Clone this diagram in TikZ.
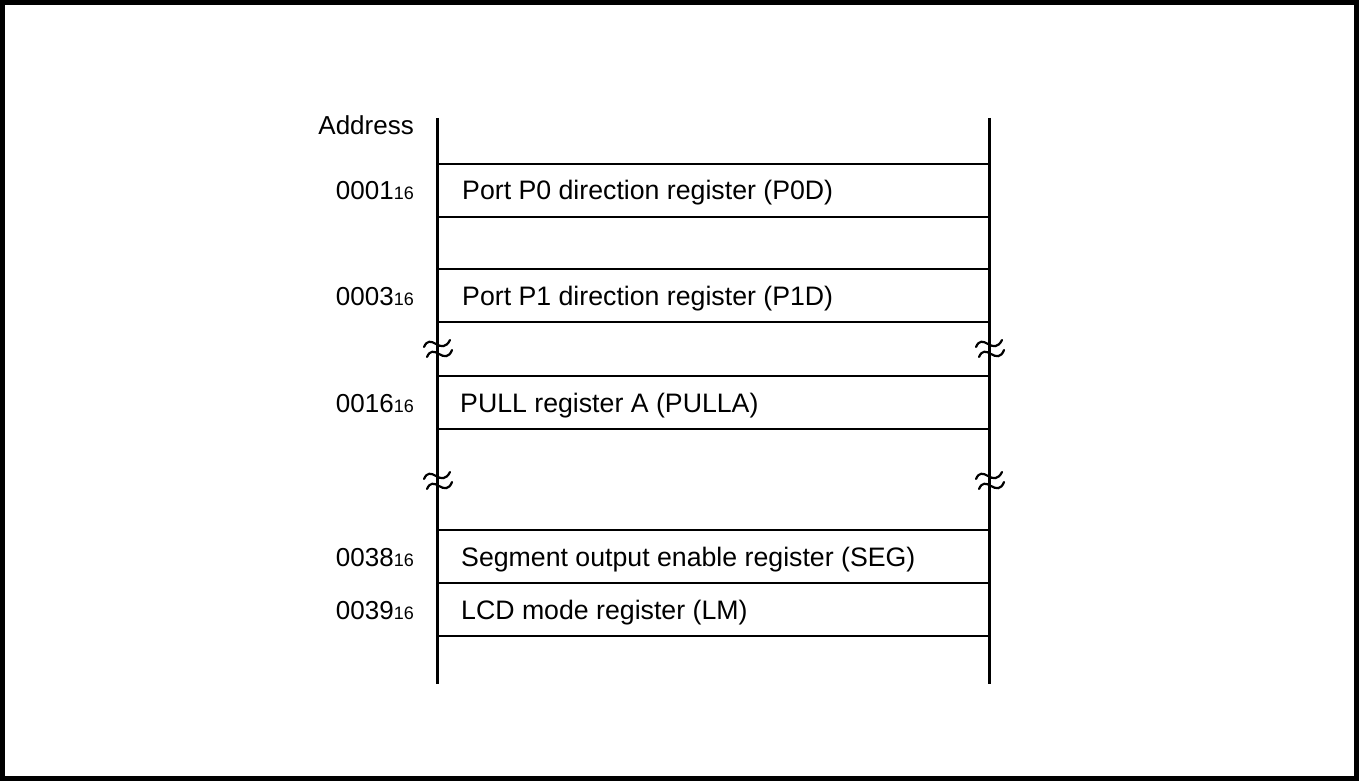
\documentclass[tikz,border=0pt]{standalone}
\usepackage{fontspec}
\setmainfont{Liberation Sans}
\newcommand{\subs}[1]{{\fontsize{18}{20}\selectfont #1}}
\begin{document}
\begin{tikzpicture}[x=1pt,y=-1pt,
  reg/.style={anchor=base west,inner sep=0pt,font=\fontsize{26.7}{30}\selectfont},
  addr/.style={anchor=base east,inner sep=0pt,font=\fontsize{26}{30}\selectfont},
  rowline/.style={line width=2.6pt},
  vline/.style={line width=3pt},
  tilde/.style={line width=2.2pt,line cap=round}]
\useasboundingbox (0,0) rectangle (1359,781);
\draw[line width=5pt] (2.5,2.5) rectangle (1356.5,778.5);
% verticals
\coordinate (lt) at (437,118); \coordinate (lb) at (437,684);
\coordinate (rt) at (989,118); \coordinate (rb) at (989,684);
\draw[vline] (lt) -- (lb);
\draw[vline] (rt) -- (rb);
% row lines
\foreach \yy/\nm in {164/a,217/b,269/c,322/d,376/e,429/f,530/g,583/h,636/i}{
  \coordinate (L\nm) at (437,\yy);
  \coordinate (R\nm) at (989,\yy);
  \draw[rowline] (L\nm) -- (R\nm);
}
% break marks
\newcommand{\brk}[2]{%
  \fill[white] (#1-15,#2-10) rectangle (#1+16,#2+10);
  \draw[vline] (#1,#2-11) -- (#1,#2+11);
  \draw[tilde] (#1-13,#2-2) .. controls (#1-10,#2-9) and (#1-6,#2-8) .. (#1-1,#2-5)
     .. controls (#1+4,#2-2) and (#1+9,#2-1) .. (#1+13,#2-9);
  \draw[tilde] (#1-10,#2+8) .. controls (#1-7,#2+1) and (#1-3,#2+2) .. (#1+2,#2+5)
     .. controls (#1+7,#2+8) and (#1+12,#2+9) .. (#1+15,#2+1);
}
\brk{437}{349}
\brk{989}{349}
\brk{437}{481}
\brk{989}{481}
% labels
\node[addr] (adr) at (414,135) {Address};
\node[addr] (a1) at (414,199) {0001\subs{16}};
\node[addr] (a3) at (414,305) {0003\subs{16}};
\node[addr] (a16) at (414,412) {0016\subs{16}};
\node[addr] (a38) at (414,566) {0038\subs{16}};
\node[addr] (a39) at (414,619) {0039\subs{16}};
\node[reg] (r1) at (462,199) {Port P0 direction register (P0D)};
\node[reg] (r3) at (462,305) {Port P1 direction register (P1D)};
\node[reg] (r16) at (460,412) {PULL register A (PULLA)};
\node[reg] (r38) at (461,566) {Segment output enable register (SEG)};
\node[reg] (r39) at (461,619) {LCD mode register (LM)};
\end{tikzpicture}
\end{document}
